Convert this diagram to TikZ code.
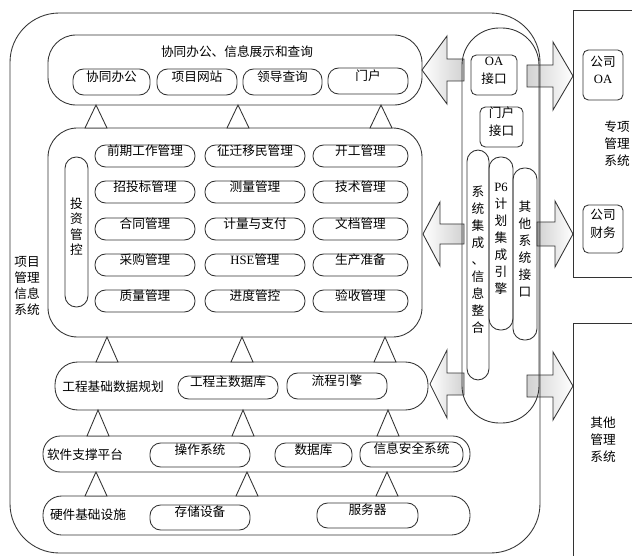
\documentclass[tikz,border=0pt]{standalone}
\usepackage{fontspec}
\setmainfont{Noto Sans CJK SC}
\newfontfamily\lat{Liberation Serif}
\usetikzlibrary{fit}
\tikzset{
  ln/.style={draw=black!80, line width=0.65pt},
  cbox/.style={ln, rounded corners=#1, inner sep=0pt},
  sb/.style={ln, rounded corners=8pt, inner sep=0pt, text height=8.4pt, text depth=1.2pt},
  sq/.style={ln, rounded corners=4pt, inner sep=0pt, align=center, font=\fontsize{9.5}{13}\selectfont},
  vpill/.style={ln, rounded corners=8.5pt, inner sep=0pt, align=center, font=\fontsize{9.5}{12.75}\selectfont},
  lbl/.style={inner sep=0pt, align=center},
  tl/.style={inner sep=0pt, text height=8.4pt, text depth=1.2pt},
  tri/.style={ln, fill=white},
  larrow/.style={ln, left color=white, right color=black!18},
  rarrow/.style={ln, left color=black!18, right color=white},
}
\begin{document}
\begin{tikzpicture}[x=0.75pt,y=-0.75pt, font=\fontsize{9.5}{11}\selectfont]
\useasboundingbox (0,0) rectangle (632,556);

% block arrows
\draw[larrow] (422,70) -- (447,36) -- (447,59) -- (464,59) -- (464,81) -- (447,81) -- (447,104) -- cycle;
\draw[rarrow] (527,65) -- (553,65) -- (553,42) -- (573,76) -- (553,110) -- (553,87) -- (527,87) -- cycle;
\draw[larrow] (423,234) -- (440,202) -- (440,224) -- (464,224) -- (464,244) -- (440,244) -- (440,266) -- cycle;
\draw[rarrow] (537,222) -- (555,222) -- (555,201) -- (573,234) -- (555,267) -- (555,246) -- (537,246) -- cycle;
\draw[larrow] (430,384) -- (447,350) -- (447,373) -- (464,373) -- (464,395) -- (447,395) -- (447,418) -- cycle;
\draw[rarrow] (527,375) -- (553,375) -- (553,352) -- (573,386) -- (553,420) -- (553,397) -- (527,397) -- cycle;

% outer container
\node[cbox=37pt, fit={(10,13) (540,553)}] (outer) {};
\node[lbl, font=\fontsize{9.5}{12}\selectfont] (sysname) at (27,286) {项目\\管理\\信息\\系统};

% right-hand systems
\draw[ln] (632,10) -- (573,10) -- (573,277) -- (632,277);
\draw[ln] (632,323) -- (573,323) -- (573,556);
\node[lbl, font=\fontsize{9.5}{12.75}\selectfont] (zx) at (617,144) {专项\\管理\\系统};
\node[lbl, font=\fontsize{9.5}{12.75}\selectfont] (qt) at (603,440) {其他\\管理\\系统};
\node[sq, fit={(583,50) (623,100)}] (coa) {公司\\{\lat OA}};
\node[sq, fit={(583,205) (623,253)}] (ccw) {公司\\财务};

% integration column
\node[cbox=28pt, fit={(462,28) (539,423)}] (integ) {};
\node[sq, fit={(471,55) (517,95)}] (oaif) {{\lat OA}\\接口};
\node[sq, fit={(480,107) (523,147)}] (mhif) {门户\\接口};
\node[vpill, fit={(467,150) (489,380)}] (xtjc) {系\\统\\集\\成\\、\\信\\息\\整\\合};
\node[vpill, fit={(489,157) (513,330)}] (p6) {{\lat P6}\\计\\划\\集\\成\\引\\擎};
\node[vpill, fit={(513,168) (537,340)}] (qtjk) {其\\他\\系\\统\\接\\口};

% top layer
\node[cbox=21pt, fit={(48,35) (422,105)}] (top) {};
\node[tl] (toptitle) at (237,52) {协同办公、信息展示和查询};
\node[sb, fit={(73,69) (150,95)}] (xtbg) {协同办公};
\node[sb, fit={(157,69) (237,95)}] (xmwz) {项目网站};
\node[sb, fit={(243,69) (322,95)}] (ldcx) {领导查询};
\node[sb, fit={(328,68) (408,94)}] (mh) {门户};

% middle layer
\node[cbox=22pt, fit={(48,128) (422,337)}] (mid) {};
\node[vpill, font=\fontsize{9.5}{11.6}\selectfont, fit={(65,157) (88,307)}] (tzgk) {投\\资\\管\\控};
\foreach \r/\cy/\a/\b/\c in {1/156/前期工作管理/征迁移民管理/开工管理,
                             2/192/招投标管理/测量管理/技术管理,
                             3/229/合同管理/计量与支付/文档管理,
                             4/265/采购管理/{{\lat HSE}管理}/生产准备,
                             5/301/质量管理/进度管控/验收管理}{
  \node[sb, fit={(95,\cy-11) (195,\cy+11)}] (g\r a) {\a};
  \node[sb, fit={(205,\cy-11) (305,\cy+11)}] (g\r b) {\b};
  \node[sb, fit={(313,\cy-11) (408,\cy+11)}] (g\r c) {\c};
}

% engineering data layer
\node[cbox=17pt, fit={(55,362) (428,410)}] (gc) {};
\node[tl] (gctitle) at (113,387) {工程基础数据规划};
\node[sb, fit={(178,376) (278,399)}] (zsjk) {工程主数据库};
\node[sb, fit={(287,373) (387,399)}] (lcyq) {流程引擎};

% software layer
\node[cbox=13pt, fit={(43,436) (470,472)}] (rj) {};
\node[tl] (rjtitle) at (85,455) {软件支撑平台};
\node[sb, fit={(150,443) (250,467)}] (czxt) {操作系统};
\node[sb, fit={(275,443) (352,467)}] (sjk) {数据库};
\node[sb, fit={(360,442) (463,467)}] (xxaq) {信息安全系统};

% hardware layer
\node[cbox=14pt, fit={(43,496) (470,535)}] (yj) {};
\node[tl] (yjtitle) at (88,515) {硬件基础设施};
\node[sb, fit={(150,505) (250,530)}] (ccsb) {存储设备};
\node[sb, fit={(317,503) (418,528)}] (fwq) {服务器};

% hollow triangles between layers
\foreach \x/\ya/\yb in {96/105/128, 238/105/128, 381/105/128,
                        107/337/362, 242/337/362, 385/337/362,
                        98/410/436, 243/410/436, 388/410/436,
                        96/472/496, 247/472/496, 387/472/496}{
  \draw[tri] (\x-11,\yb) -- (\x,\ya) -- (\x+11,\yb) -- cycle;
}
\end{tikzpicture}
\end{document}
